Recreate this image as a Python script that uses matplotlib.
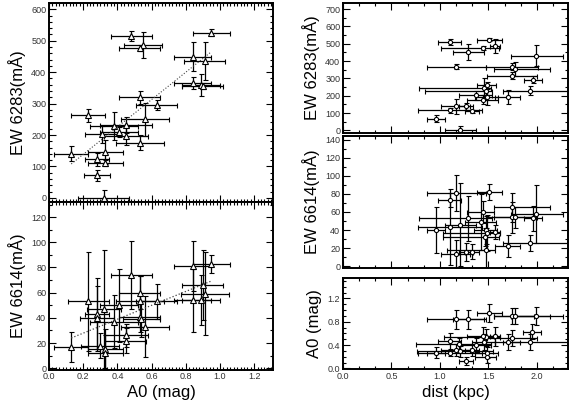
import matplotlib
matplotlib.use('Agg')
import matplotlib.pyplot as plt
from matplotlib.ticker import MultipleLocator, AutoMinorLocator

plt.rcParams['font.family'] = ['Liberation Sans', 'DejaVu Sans']

# ---- left panels: EW vs A0 ----
lt_a0 = [0.13, 0.23, 0.28, 0.28, 0.32, 0.31, 0.33, 0.33, 0.38, 0.41, 0.45, 0.45, 0.48,
         0.55, 0.53, 0.53, 0.53, 0.56, 0.63, 0.84, 0.84, 0.89, 0.90, 0.91, 0.95]
lt_a0_err = [0.10, 0.10, 0.07, 0.075, 0.15, 0.10, 0.10, 0.10, 0.14, 0.11, 0.15, 0.13, 0.12,
             0.11, 0.12, 0.12, 0.14, 0.14, 0.12, 0.11, 0.11, 0.11, 0.12, 0.12, 0.11]
lt_ew = [141, 263, 123, 72, 1, 203, 147, 111, 229, 210, 231, 196, 515,
         486, 476, 320, 176, 250, 297, 449, 366, 359, 356, 435, 526]
lt_ew_err = [23, 21, 20, 17, 24, 27, 38, 10, 45, 16, 26, 29, 15,
             42, 10, 21, 25, 53, 16, 46, 18, 35, 10, 60, 11]
lt_fit_x = [0.13, 0.945]
lt_fit_y = [108, 463]

lb_a0 = [0.13, 0.23, 0.28, 0.28, 0.30, 0.32, 0.33, 0.33, 0.38, 0.41, 0.48, 0.45, 0.45,
         0.53, 0.53, 0.53, 0.54, 0.56, 0.63, 0.84, 0.84, 0.89, 0.90, 0.91, 0.95]
lb_a0_err = [0.10, 0.12, 0.07, 0.10, 0.11, 0.10, 0.10, 0.10, 0.14, 0.11, 0.12, 0.13, 0.12,
             0.12, 0.14, 0.12, 0.11, 0.14, 0.12, 0.11, 0.11, 0.11, 0.12, 0.14, 0.11]
lb_ew = [17, 53, 43, 40, 18, 47, 15, 12, 37, 50, 74, 26, 22,
         60, 53, 41, 39, 33, 53, 81, 54, 54, 66, 59, 83]
lb_ew_err = [12, 39, 29, 25, 10, 47, 16, 14, 21, 29, 27, 9, 10,
             13, 20, 12, 14, 24, 14, 20, 25, 20, 28, 33, 7]
lb_fit_x = [0.13, 0.945]
lb_fit_y = [24, 69]

# ---- right panels: vs distance ----
rt_dist = [1.10, 1.51, 1.44, 1.57, 1.29, 1.16, 1.99, 1.74, 1.77, 1.74, 1.96, 1.93, 1.70,
           1.45, 1.48, 1.47, 1.37, 1.44, 1.48, 1.16, 1.10, 1.27, 1.33, 0.96, 1.21]
rt_dlo = [0.12, 0.13, 0.43, 0.05, 0.16, 0.29, 0.26, 0.27, 0.21, 0.26, 0.09, 0.28, 0.13,
          0.67, 0.10, 0.62, 0.17, 0.16, 0.12, 0.15, 0.33, 0.07, 0.07, 0.09, 0.16]
rt_dhi = [0.12, 0.13, 0.17, 0.05, 0.16, 0.31, 0.28, 0.27, 0.36, 0.26, 0.09, 0.40, 0.13,
          0.08, 0.10, 0.07, 0.17, 0.16, 0.12, 0.15, 0.33, 0.07, 0.07, 0.09, 0.16]
rt_ew = [510, 523, 475, 485, 450, 368, 432, 368, 355, 316, 291, 229, 194,
         242, 262, 225, 203, 178, 194, 140, 116, 140, 110, 68, 0]
rt_ew_err = [16, 10, 10, 41, 46, 15, 58, 20, 41, 22, 20, 27, 39,
             58, 20, 20, 25, 25, 45, 44, 15, 20, 10, 20, 25]

rm_dist = [1.16, 1.10, 1.51, 1.74, 1.99, 1.74, 1.77, 1.96, 1.44, 1.29, 1.42, 1.21,
           1.10, 0.96, 1.47, 1.48, 1.57, 1.46, 1.70, 1.93, 1.16, 1.27, 1.33, 1.47]
rm_dlo = [0.29, 0.12, 0.13, 0.18, 0.26, 0.26, 0.21, 0.09, 0.16, 0.51, 0.16, 0.16,
          0.33, 0.09, 0.12, 0.45, 0.05, 0.43, 0.13, 0.28, 0.15, 0.07, 0.07, 0.40]
rm_dhi = [0.31, 0.12, 0.13, 0.39, 0.28, 0.26, 0.20, 0.09, 0.12, 0.25, 0.16, 0.16,
          0.33, 0.09, 0.12, 0.14, 0.05, 0.15, 0.13, 0.40, 0.15, 0.07, 0.07, 0.10]
rm_ew = [81, 73, 82, 65, 58, 54, 54, 53, 60, 53, 49, 46,
         43, 40, 40, 37, 38, 32, 22, 26, 13, 16, 16, 18]
rm_ew_err = [20, 8, 9, 16, 32, 17, 12, 14, 12, 25, 31, 46,
             42, 25, 15, 20, 8, 10, 12, 9, 16, 10, 8, 24]

rb_dist = [1.16, 1.29, 1.51, 1.74, 1.77, 1.99, 1.95, 1.93, 1.74, 1.70, 1.57, 1.47, 1.44,
           1.45, 1.10, 1.20, 1.37, 1.16, 1.21, 1.33, 0.96, 1.10, 1.48, 1.48, 1.27]
rb_dlo = [0.29, 0.16, 0.13, 0.18, 0.21, 0.26, 0.09, 0.28, 0.26, 0.13, 0.05, 0.43, 0.16,
          0.12, 0.12, 0.45, 0.16, 0.15, 0.45, 0.07, 0.09, 0.33, 0.12, 0.12, 0.07]
rb_dhi = [0.31, 0.16, 0.13, 0.39, 0.20, 0.28, 0.09, 0.40, 0.26, 0.13, 0.05, 0.15, 0.12,
          0.12, 0.12, 0.33, 0.16, 0.15, 0.34, 0.07, 0.09, 0.33, 0.12, 0.10, 0.07]
rb_a0 = [0.84, 0.84, 0.95, 0.90, 0.90, 0.90, 0.63, 0.45, 0.52, 0.45, 0.55, 0.53, 0.56,
         0.45, 0.47, 0.42, 0.40, 0.32, 0.29, 0.32, 0.27, 0.27, 0.27, 0.20, 0.12]
rb_a0_err = [0.16, 0.16, 0.16, 0.14, 0.14, 0.16, 0.13, 0.14, 0.14, 0.14, 0.16, 0.14, 0.15,
             0.14, 0.14, 0.10, 0.12, 0.10, 0.10, 0.10, 0.10, 0.05, 0.10, 0.10, 0.07]

W, H = 571, 403


def add_panel(x0, y0, x1, y1):
    return fig.add_axes([x0 / W, 1 - y1 / H, (x1 - x0) / W, (y1 - y0) / H])


def style(ax, xmaj, xminor, ymaj, yminor, xlabels=True):
    ax.xaxis.set_major_locator(MultipleLocator(xmaj))
    ax.xaxis.set_minor_locator(AutoMinorLocator(xminor))
    ax.yaxis.set_major_locator(MultipleLocator(ymaj))
    ax.yaxis.set_minor_locator(AutoMinorLocator(yminor))
    ax.tick_params(which='both', direction='in', top=True, right=True,
                   labelsize=6.5, labelcolor='#333333', pad=2, width=0.8)
    ax.tick_params(which='major', length=5)
    ax.tick_params(which='minor', length=2.5)
    if not xlabels:
        ax.tick_params(labelbottom=False)
    for s in ax.spines.values():
        s.set_linewidth(1.4)


def bars(ax, x, y, xerr, yerr, marker, ms):
    ax.errorbar(x, y, xerr=xerr, yerr=yerr, fmt=marker, ms=ms, mfc='white', mec='black',
                mew=0.8, ecolor='black', elinewidth=0.9, capsize=1.8, capthick=0.9, zorder=3)


fig = plt.figure(figsize=(W / 100, H / 100), dpi=100)

# left top
ax = add_panel(49, 3, 273, 202)
bars(ax, lt_a0, lt_ew, lt_a0_err, lt_ew_err, '^', 4.5)
ax.plot(lt_fit_x, lt_fit_y, ':', color='#444444', lw=0.8, zorder=4)
ax.set_xlim(0, 1.31)
ax.set_ylim(-13, 620)
style(ax, 0.2, 10, 100, 5, xlabels=False)
ax.set_yticks([0, 100, 200, 300, 400, 500, 600])
ax.set_ylabel('EW 6283(mÅ)', fontsize=12, labelpad=4)

# left bottom
ax = add_panel(49, 202, 273, 369.5)
bars(ax, lb_a0, lb_ew, lb_a0_err, lb_ew_err, '^', 4.5)
ax.plot(lb_fit_x, lb_fit_y, ':', color='#444444', lw=0.9, zorder=4)
ax.set_xlim(0, 1.31)
ax.set_ylim(-1, 132)
style(ax, 0.2, 10, 20, 2)
ax.set_yticks([0, 20, 40, 60, 80, 100, 120])
ax.set_ylabel('EW 6614(mÅ)', fontsize=12, labelpad=4)
ax.set_xlabel('A0 (mag)', fontsize=12, labelpad=3)

# right top
ax = add_panel(343, 3, 568, 133)
bars(ax, rt_dist, rt_ew, [rt_dlo, rt_dhi], rt_ew_err, 'o', 3.0)
ax.set_xlim(0, 2.32)
ax.set_ylim(-15, 735)
style(ax, 0.5, 3, 100, 2, xlabels=False)
ax.set_yticks([0, 100, 200, 300, 400, 500, 600, 700])
ax.set_ylabel('EW 6283(mÅ)', fontsize=12, labelpad=4)

# right middle
ax = add_panel(343, 136, 568, 268)
bars(ax, rm_dist, rm_ew, [rm_dlo, rm_dhi], rm_ew_err, 'o', 3.0)
ax.set_xlim(0, 2.32)
ax.set_ylim(-2, 144)
style(ax, 0.5, 3, 20, 2, xlabels=False)
ax.set_yticks([0, 20, 40, 60, 80, 100, 120, 140])
ax.set_ylabel('EW 6614(mÅ)', fontsize=12, labelpad=4)

# right bottom
ax = add_panel(343, 278, 568, 369)
bars(ax, rb_dist, rb_a0, [rb_dlo, rb_dhi], rb_a0_err, 'o', 3.0)
ax.set_xlim(0, 2.32)
ax.set_ylim(-0.01, 1.55)
style(ax, 0.5, 3, 0.4, 4)
ax.set_yticks([0.0, 0.4, 0.8, 1.2])
ax.set_ylabel('A0 (mag)', fontsize=12, labelpad=4)
ax.set_xlabel('dist (kpc)', fontsize=12, labelpad=3)

fig.savefig('out.png', dpi=100)
